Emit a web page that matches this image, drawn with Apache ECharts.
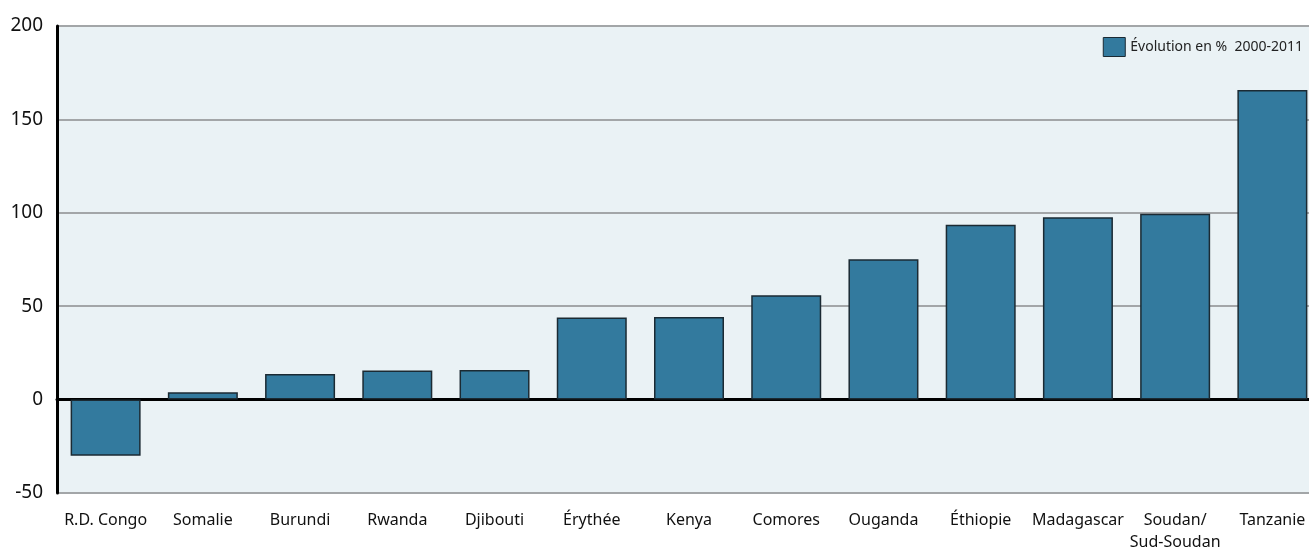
<!DOCTYPE html>
<html>
<head>
<meta charset="utf-8">
<script src="https://cdn.jsdelivr.net/npm/echarts@6/dist/echarts.min.js"></script>
<style>
  html, body { margin: 0; padding: 0; background: #fff; }
  #mychart { width: 1309px; height: 547px; }
</style>
</head>
<body>
<div id="mychart"></div>
<script>
var pays = ['R.D. Congo', 'Somalie', 'Burundi', 'Rwanda', 'Djibouti', 'Érythée', 'Kenya',
            'Comores', 'Ouganda', 'Éthiopie', 'Madagascar', 'Soudan/\nSud-Soudan', 'Tanzanie'];
var evolution = [-30, 3.9, 13.7, 15.6, 15.8, 43.9, 44.2, 55.8, 75.1, 93.6, 97.6, 99.5, 165.8];
var serieNom = 'Évolution en %  2000-2011';

var chart = echarts.init(document.getElementById('mychart'));
var option = {
    animation: false,
    textStyle: { fontFamily: 'Noto Sans' },
    grid: {
        left: 57, right: -12, top: 26, bottom: 54,
        outerBoundsMode: 'none',
        containLabel: false,
        show: true, backgroundColor: '#EAF2F5', borderWidth: 0
    },
    legend: {
        right: 1, top: 32,
        icon: 'rect',
        itemWidth: 22, itemHeight: 19, itemGap: 8,
        itemStyle: { borderColor: '#1b2a33', borderWidth: 1 },
        textStyle: { fontSize: 14, color: '#222' },
        data: [serieNom]
    },
    xAxis: {
        type: 'category',
        data: pays,
        axisLine: { onZero: true, lineStyle: { color: '#000', width: 3 } },
        axisTick: { show: false },
        axisLabel: {
            color: '#111', fontSize: 16, margin: 16, lineHeight: 22,
            interval: 0
        }
    },
    yAxis: {
        type: 'value',
        min: -50, max: 200, interval: 50,
        axisLine: { show: true, lineStyle: { color: '#000', width: 3 } },
        axisTick: { show: false },
        axisLabel: { color: '#111', fontSize: 19, margin: 14 },
        splitLine: { lineStyle: { color: '#a3a6a8', width: 2 } }
    },
    series: [{
        name: serieNom,
        type: 'bar',
        data: evolution,
        barWidth: 70,
        itemStyle: { color: '#337A9E', borderColor: '#1b2a33', borderWidth: 1.5 }
    }]
};
chart.setOption(option);
</script>
</body>
</html>
